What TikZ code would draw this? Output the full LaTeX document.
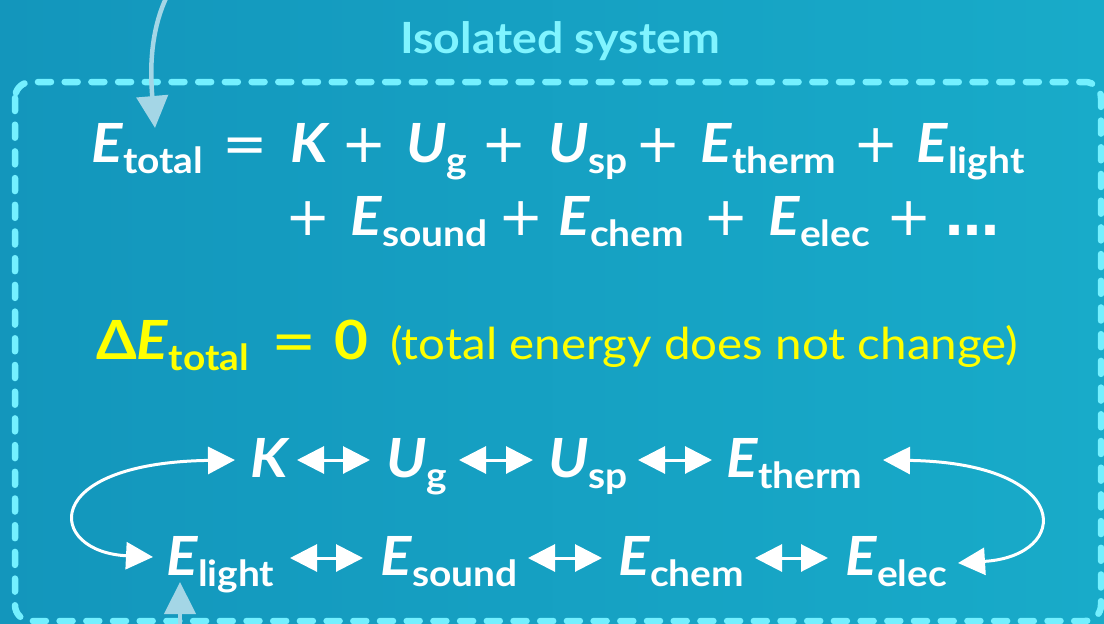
\documentclass[tikz,border=0pt]{standalone}
\usepackage{fontspec}
\setmainfont{Lato}[FakeStretch=1.08]
\newfontfamily\opfont{DejaVu Sans}
\usetikzlibrary{arrows.meta,calc}
\definecolor{bgA}{HTML}{1396BC}
\definecolor{bgB}{HTML}{18ABC9}
\definecolor{cyanT}{HTML}{80F4FF}
\definecolor{dashC}{HTML}{74F0FF}
\definecolor{pale}{HTML}{A4D6E6}
\definecolor{yel}{HTML}{FFFF00}
\newcommand\sbs[1]{\raisebox{-11pt}{\fontsize{36}{40}\selectfont\bfseries #1}}
\newcommand\trm[2]{\textit{#1}\sbs{#2}}
\tikzset{
  big/.style={font=\fontsize{54}{60}\selectfont\bfseries, inner sep=0pt},
  opf/.style={font=\fontsize{54}{60}\selectfont\opfont, inner sep=0pt},
  eq/.style={big, text=white, anchor=base west},
  op/.style={opf, text=white, anchor=base},
  yeq/.style={big, text=yel, anchor=base west},
  yop/.style={opf, text=yel, anchor=base},
  ytxt/.style={font=\fontsize{44}{48}\selectfont, text=yel, inner sep=0pt, anchor=base west},
  ttl/.style={font=\fontsize{43}{50}\selectfont\bfseries, text=cyanT, inner sep=0pt, anchor=base},
  dbl/.style={white, line width=3pt, {Triangle[length=27pt,width=27pt]}-{Triangle[length=27pt,width=27pt]}},
  loop/.style={white, line width=3pt, {Triangle[length=27pt,width=27pt]}-{Triangle[length=27pt,width=27pt]}},
  palearr/.style={pale, line width=4.5pt, -{Triangle[length=32pt,width=31pt]}},
  boxline/.style={dashC, line width=6.5pt, dash pattern=on 13pt off 13.7pt, line cap=round, rounded corners=16pt}
}
\begin{document}
\begin{tikzpicture}[x=1pt,y=-1pt]
\useasboundingbox (0,0) rectangle (1104,624);
\shade[left color=bgA, right color=bgB] (0,0) rectangle (1104,624);
% isolated system boundary
\draw[boxline] (15,82) rectangle (1101,621);
\node[ttl] (title) at (560,53) {Isolated system};
% line 1
\node[eq] (Etot) at (91,162) {\trm{E}{total}};
\node[op] (o1) at (245,162) {=};
\node[eq] (K1) at (290,162) {\textit{K}};
\node[op] (o2) at (364,162) {+};
\node[eq] (Ug1) at (406,162) {\trm{U}{g}};
\node[op] (o3) at (504,162) {+};
\node[eq] (Usp1) at (548,162) {\trm{U}{sp}};
\node[op] (o4) at (658,162) {+};
\node[eq] (Eth1) at (700,162) {\trm{E}{therm}};
\node[op] (o5) at (876,162) {+};
\node[eq] (Eli1) at (916,162) {\trm{E}{light}};
% line 2
\node[op] (o6) at (308,235) {+};
\node[eq] (Eso1) at (350,235) {\trm{E}{sound}};
\node[op] (o7) at (521,235) {+};
\node[eq] (Ech1) at (558,235) {\trm{E}{chem}};
\node[op] (o8) at (726,235) {+};
\node[eq] (Eel1) at (768,235) {\trm{E}{elec}};
\node[op] (o9) at (909,235) {+};
\node[op] (dots) at (972,235) {\bfseries …};
% line 3
\node[yeq] (dE) at (96,359) {Δ\trm{E}{total}};
\node[yop] (o10) at (294,359) {=};
\node[yeq, anchor=base] (zero) at (351,359) {0};
\node[ytxt] (note) at (390,359) {(total energy does not change)};
% row 4
\node[eq] (K) at (250,477) {\textit{K}};
\node[eq] (Ug) at (386,477) {\trm{U}{g}};
\node[eq] (Usp) at (548,477) {\trm{U}{sp}};
\node[eq] (Eth) at (726,477) {\trm{E}{therm}};
% row 5
\node[eq] (Eli) at (166,575) {\trm{E}{light}};
\node[eq] (Eso) at (380,575) {\trm{E}{sound}};
\node[eq] (Ech) at (618,575) {\trm{E}{chem}};
\node[eq] (Eel) at (845,575) {\trm{E}{elec}};
% double arrows
\draw[dbl] ($(K.base west)+(47,-17)$) -- ($(Ug.base west)+(-16,-17)$);
\draw[dbl] ($(Ug.base west)+(73,-17)$) -- ($(Usp.base west)+(-15,-17)$);
\draw[dbl] ($(Usp.base west)+(90,-17)$) -- ($(Eth.base west)+(-14,-17)$);
\draw[dbl] ($(Eli.base west)+(124,-17)$) -- ($(Eso.base west)+(-17,-17)$);
\draw[dbl] ($(Eso.base west)+(148,-17)$) -- ($(Ech.base west)+(-16,-17)$);
\draw[dbl] ($(Ech.base west)+(137,-17)$) -- ($(Eel.base west)+(-17,-17)$);
% loops
\draw[loop] ($(Eli.base west)+(-13,-18)$) .. controls (47,552) and (37,463) .. ($(K.base west)+(-15,-17)$);
\draw[loop] ($(Eth.base west)+(157,-17)$) .. controls (1074,463) and (1072,556) .. ($(Eel.base west)+(113,-12)$);
% pale arrows from outside
\coordinate (inTop) at (168,-6);
\coordinate (tipTop) at (155,128);
\coordinate (inBot) at (180,630);
\coordinate (tipBot) at (180,582);
\draw[palearr] (inTop) .. controls (150,30) and (150,70) .. (tipTop);
\draw[palearr] (inBot) -- (tipBot);
\end{tikzpicture}
\end{document}
